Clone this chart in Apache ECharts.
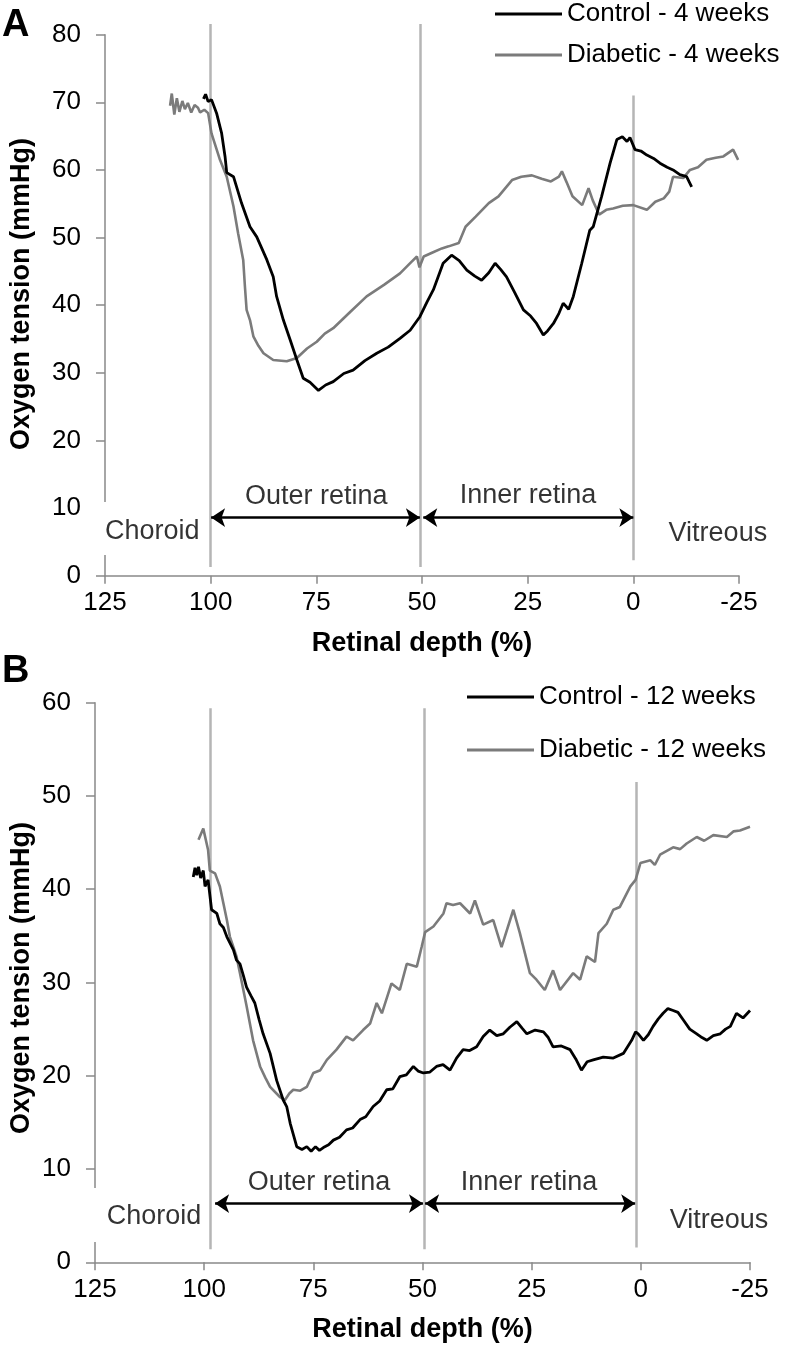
<!DOCTYPE html>
<html>
<head>
<meta charset="utf-8">
<script src="https://cdn.jsdelivr.net/npm/echarts@6/dist/echarts.min.js"></script>
<style>
    html, body { margin: 0; padding: 0; background: #fff; }
    #retina_o2 { width: 789px; height: 1351px; }
</style>
</head>
<body>
<div id="retina_o2"></div>
<script>
'use strict';

/*------------- data: [retinal depth %, O2 mmHg] ------------------------------------*/
var ctrl4 = [
    [101.7, 70.5], [101.2, 71.2], [100.6, 70.1], [99.8, 70.4], [98.6, 68.4], [97.4, 65.4], [96.6, 62],
    [96.2, 59.6], [94.6, 59], [92.7, 55.1], [90.7, 51.6], [89.1, 50.1], [86.7, 46.7], [85.2, 44.2],
    [84.4, 41.3], [82.8, 37.8], [81.2, 34.9], [79.6, 31.9], [78.1, 29.2], [76.5, 28.6], [74.5, 27.4],
    [72.8, 28.2], [71, 28.7], [68.5, 29.9], [66.3, 30.4], [63.5, 31.8], [60.7, 32.9], [58, 33.8],
    [55.2, 35.1], [52.8, 36.3], [50.5, 38.3], [48.8, 40.5], [47.3, 42.3], [45, 46.2], [43, 47.4],
    [41.2, 46.6], [39.4, 45.2], [37.5, 44.3], [35.9, 43.7], [34.2, 44.8], [32.7, 46.2], [31.4, 45.3],
    [30, 44.2], [28, 41.8], [26, 39.3], [24.3, 38.4], [22.9, 37.3], [21.3, 35.6], [20.3, 36.2],
    [18.9, 37.3], [17.6, 38.8], [16.6, 40.3], [15.3, 39.4], [14.2, 41.3], [12.2, 46.2], [10.3, 51.1],
    [9.5, 51.6], [7.5, 56.1], [5.5, 61], [3.9, 64.5], [2.6, 64.9], [1.5, 64.2], [0.8, 64.8],
    [-0.4, 63], [-1.8, 62.8], [-3.2, 62.2], [-4.8, 61.7], [-6.3, 61], [-8, 60.4], [-9.4, 60],
    [-11, 59.3], [-12.6, 59], [-13.8, 57.5]
];
var diab4 = [
    [109.6, 69.5], [109.2, 71.3], [108.6, 68.2], [108, 70.6], [107.4, 68.6], [106.7, 70.2], [106.1, 69],
    [105.4, 69.9], [104.6, 68.5], [103.8, 69.6], [103, 69.2], [102.5, 68.5], [101.5, 68.9], [100.6, 68.4],
    [99.8, 65.4], [97.8, 61.5], [96.2, 59], [94.6, 54.6], [93.5, 50.6], [92.3, 46.7], [91.9, 42.8],
    [91.5, 39.3], [90.7, 37.8], [89.9, 35.4], [88.7, 34], [87.5, 32.9], [85.2, 31.9], [82, 31.7],
    [79.6, 32.2], [77.2, 33.6], [74.9, 34.6], [73, 35.8], [71, 36.6], [67, 39], [63.1, 41.3],
    [59, 43], [55.2, 44.7], [52.5, 46.4], [51.2, 47.2], [50.6, 45.6], [49.6, 47.2], [47.5, 47.8],
    [45.3, 48.4], [43.7, 48.7], [41.3, 49.2], [39.7, 51.6], [37.3, 53.1], [34.2, 55.1], [31.9, 56.1],
    [28.7, 58.5], [26.5, 59], [24, 59.2], [21.7, 58.7], [19.5, 58.3], [17.6, 59], [16.9, 59.8],
    [15.8, 58.2], [14.4, 56.1], [12.1, 54.8], [10.6, 57.3], [9.6, 55.5], [8.1, 53.4], [6.4, 54.1],
    [4.8, 54.3], [2.5, 54.7], [0, 54.8], [-3.2, 54.1], [-5.2, 55.3], [-7.2, 55.8], [-8.5, 56.8],
    [-9.4, 59], [-11.8, 58.8], [-13.4, 60], [-15.3, 60.4], [-17.3, 61.5], [-19.5, 61.8],
    [-21.3, 62], [-23.6, 63], [-24.8, 61.5]
];
var ctrl12 = [
    [102.5, 41.3], [102.1, 42.3], [101.7, 41.5], [101.3, 42.4], [100.8, 41.2], [100.2, 42], [99.8, 40.3],
    [99.1, 41], [98.3, 37.8], [97.1, 37.4], [96.4, 36.3], [95.6, 35.9], [94.8, 34.9], [93.3, 33.5],
    [92.6, 32.4], [91.8, 32], [91, 30.7], [90.3, 29.5], [89.3, 28.6], [88.4, 27.8], [87.4, 26],
    [86.5, 24.5], [84.9, 22.4], [83.4, 19.5], [81.9, 17.4], [81.1, 16.7], [80.3, 14.9], [78.8, 12.4],
    [77.6, 12.1], [76.5, 12.4], [75.5, 11.9], [74.5, 12.4], [73.6, 12], [72.7, 12.3], [71.5, 12.6],
    [70.4, 13.1], [69, 13.4], [67.4, 14.2], [66, 14.4], [64.3, 15.3], [63, 15.6], [61.3, 16.7],
    [59.8, 17.3], [58.2, 18.5], [56.8, 18.6], [55.2, 19.9], [53.7, 20.1], [52.1, 21], [51, 20.5],
    [49.8, 20.3], [48.3, 20.4], [46.8, 21], [45.3, 21.2], [43.7, 20.6], [42.2, 21.9], [40.7, 22.8],
    [39.2, 22.7], [37.6, 23.1], [36.1, 24.2], [34.6, 24.9], [33, 24.3], [31.5, 24.5], [30, 25.2],
    [28.4, 25.8], [27.2, 25.1], [26.1, 24.5], [24.2, 24.9], [22.3, 24.7], [21.2, 24.1], [20.1, 23.1],
    [18.2, 23.2], [16.2, 22.8], [14.9, 21.8], [13.6, 20.6], [12.3, 21.5], [10.9, 21.7], [8.6, 22],
    [6.3, 21.9], [4, 22.4], [2.1, 23.8], [1.2, 24.7], [0.6, 24.5], [-0.6, 23.8], [-1.7, 24.4],
    [-2.8, 25.3], [-4, 26.1], [-5.1, 26.7], [-6.2, 27.2], [-7.4, 27], [-8.5, 26.8], [-9.7, 26],
    [-11.2, 25], [-12.8, 24.5], [-14, 24.1], [-15.1, 23.8], [-16.6, 24.3], [-18.2, 24.5],
    [-19.4, 25], [-20.5, 25.3], [-21.9, 26.7], [-23.4, 26.2], [-25, 27]
];
var diab12 = [
    [101.3, 45.3], [100.2, 46.5], [99.1, 44.2], [98.7, 42], [97.5, 41.7], [96.4, 40.3], [95.6, 38.5],
    [94.8, 36.7], [94.1, 34.9], [93.3, 33.8], [92.6, 32.8], [91.8, 31], [90.3, 27.5], [88.8, 23.8],
    [87.2, 21], [86, 19.8], [84.9, 18.8], [82.6, 17.7], [81.5, 17.4], [80.5, 18.1], [79.6, 18.5],
    [78, 18.4], [76.5, 18.8], [75, 20.3], [73.4, 20.6], [71.9, 21.7], [69.7, 22.8], [67.4, 24.2],
    [65.9, 23.8], [63.6, 24.9], [62, 25.6], [60.5, 27.8], [59.3, 26.7], [57.1, 29.9], [55.2, 29.2],
    [53.6, 32], [51.3, 31.7], [50.2, 33.8], [49.4, 35.4], [47.5, 36], [45.2, 37.4], [44.5, 38.5],
    [43, 38.3], [41.4, 38.5], [39.1, 37.4], [38, 38.8], [36.1, 36.2], [33.8, 36.7], [31.9, 33.8],
    [29.2, 37.8], [27.7, 35.3], [25.4, 31], [23.9, 30.3], [22, 29.2], [20.1, 31.3], [18.5, 29.2],
    [15.5, 31], [13.9, 30.3], [12.4, 32.8], [10.5, 32.2], [9.7, 35.3], [7.8, 36.3], [6.3, 37.8],
    [4.8, 38.1], [2.4, 40.3], [1.2, 41], [0.1, 42.8], [-2.2, 43.1], [-3.2, 42.6], [-4.4, 43.7],
    [-7.4, 44.5], [-9, 44.3], [-10.5, 44.9], [-12.8, 45.6], [-14.5, 45.2], [-16.6, 45.8],
    [-19.7, 45.6], [-21.2, 46.2], [-22.7, 46.3], [-25, 46.7]
];

// region boundaries: [depth, from O2, to O2]
var boundsA = [[100, 1.3, 81.6], [50.4, 1.3, 81.6], [0, 2.3, 71]];
var boundsB = [[98.5, 1.4, 59.4], [49.7, 1.4, 59.4], [1.1, 1.6, 51.5]];
// double arrows: [from depth, to depth, O2]
var arrowsA = [[99.9, 50.5, 8.6], [49.7, 0, 8.6]];
var arrowsB = [[97.5, 49.9, 6.3], [49.4, 1.3, 6.3]];
// region labels: [depth, O2, text]
var labelsA = [[75, 11.7, 'Outer retina'], [24.9, 11.9, 'Inner retina'], [113.8, 6.5, 'Choroid'], [-20, 6.3, 'Vitreous']];
var labelsB = [[73.7, 8.6, 'Outer retina'], [25.6, 8.6, 'Inner retina'], [111.5, 4.9, 'Choroid'], [-17.9, 4.5, 'Vitreous']];

var namesA = ['Control - 4 weeks', 'Diabetic - 4 weeks'];
var namesB = ['Control - 12 weeks', 'Diabetic - 12 weeks'];

var FONT = '"Liberation Sans", Arial, sans-serif';
var AXIS_GREY = '#898989';
var BOUND_GREY = '#b5b5b5';
var DIAB_GREY = '#7b7b7b';

var myChart = echarts.init(document.getElementById('retina_o2'));

function xAxisFor(gridIndex) {
    return {
        gridIndex: gridIndex, type: 'value', min: -25, max: 125, interval: 25, inverse: true,
        axisLine: { show: true, onZero: false, lineStyle: { color: AXIS_GREY, width: 1.5 } },
        axisTick: { show: true, length: 8, lineStyle: { color: AXIS_GREY, width: 1.5 } },
        axisLabel: { margin: 14, fontSize: 26, lineHeight: 27, color: '#000', fontFamily: FONT },
        splitLine: { show: false },
        name: 'Retinal depth (%)', nameLocation: 'middle', nameGap: 54,
        nameTextStyle: { fontSize: 27, fontWeight: 'bold', color: '#000', fontFamily: FONT }
    };
}
function yAxisFor(gridIndex, max) {
    return {
        gridIndex: gridIndex, type: 'value', min: 0, max: max, interval: 10,
        axisLine: { show: true, onZero: false, lineStyle: { color: AXIS_GREY, width: 1.5 } },
        axisTick: { show: true, length: 9, lineStyle: { color: AXIS_GREY, width: 1.5 } },
        axisLabel: { margin: 24, fontSize: 26, color: '#000', fontFamily: FONT },
        splitLine: { show: false }
    };
}
function traceSeries(name, data, idx, color, width) {
    return {
        name: name, type: 'line', xAxisIndex: idx, yAxisIndex: idx, data: data,
        showSymbol: false, symbol: 'none', z: 5, animation: false,
        lineStyle: { color: color, width: width }, itemStyle: { color: color }
    };
}
function boundSeries(bounds, idx) {
    return {
        type: 'lines', coordinateSystem: 'cartesian2d', xAxisIndex: idx, yAxisIndex: idx,
        clip: false, silent: true, z: 2, animation: false,
        lineStyle: { color: BOUND_GREY, width: 2.5, opacity: 1 },
        data: bounds.map(function (b) { return { coords: [[b[0], b[1]], [b[0], b[2]]] }; })
    };
}
function arrowSeries(arrows, idx) {
    return {
        type: 'lines', coordinateSystem: 'cartesian2d', xAxisIndex: idx, yAxisIndex: idx,
        silent: true, z: 4, animation: false, symbol: ['arrow', 'arrow'], symbolSize: 14,
        lineStyle: { color: '#000', width: 2.6, opacity: 1 },
        data: arrows.map(function (a) { return { coords: [[a[0], a[2]], [a[1], a[2]]] }; })
    };
}
function labelSeries(labels, idx) {
    return {
        type: 'scatter', xAxisIndex: idx, yAxisIndex: idx, symbolSize: 0, silent: true, animation: false,
        z: 120,
        label: { show: true, position: 'inside', formatter: '{b}', fontSize: 27, color: '#000',
                 textBorderWidth: 0, fontFamily: FONT },
        data: labels.map(function (l) { return { name: l[2], value: [l[0], l[1]] }; })
    };
}
function legendFor(names, left, top, gap) {
    return {
        data: names, orient: 'vertical', left: left, top: top, padding: 0, itemGap: gap,
        icon: 'rect', itemWidth: 67, itemHeight: 3, selectedMode: false,
        textStyle: { fontSize: 26, lineHeight: 28, color: '#000', fontFamily: FONT }
    };
}

var option = {
    backgroundColor: '#fff',
    animation: false,
    grid: [
        { left: 105, top: 34.7, width: 634, height: 541, outerBoundsMode: 'none' },
        { left: 95, top: 702.7, width: 655, height: 559.6, outerBoundsMode: 'none' }
    ],
    legend: [
        legendFor(namesA, 495, 0, 13),
        legendFor(namesB, 467, 683, 25)
    ],
    xAxis: [xAxisFor(0), xAxisFor(1)],
    yAxis: [yAxisFor(0, 80), yAxisFor(1, 60)],
    graphic: [
        // gap in the y axis behind the "Choroid" text
        { type: 'rect', shape: { x: 93, y: 502, width: 14, height: 53 }, style: { fill: '#fff' }, z: 100 },
        { type: 'rect', shape: { x: 87, y: 1188, width: 12, height: 54 }, style: { fill: '#fff' }, z: 100 },
        { type: 'text', x: 2, y: 7, style: { text: 'A', font: 'bold 38px ' + FONT, fill: '#000' }, z: 100 },
        { type: 'text', x: 2, y: 653, style: { text: 'B', font: 'bold 38px ' + FONT, fill: '#000' }, z: 100 },
        { type: 'text', x: 22, y: 294, rotation: Math.PI / 2,
          style: { text: 'Oxygen tension (mmHg)', font: 'bold 27px ' + FONT, fill: '#000', align: 'center', verticalAlign: 'middle' } },
        { type: 'text', x: 22, y: 978, rotation: Math.PI / 2,
          style: { text: 'Oxygen tension (mmHg)', font: 'bold 27px ' + FONT, fill: '#000', align: 'center', verticalAlign: 'middle' } }
    ],
    series: [
        boundSeries(boundsA, 0),
        arrowSeries(arrowsA, 0),
        labelSeries(labelsA, 0),
        traceSeries(namesA[1], diab4, 0, DIAB_GREY, 2.6),
        traceSeries(namesA[0], ctrl4, 0, '#000', 2.8),
        boundSeries(boundsB, 1),
        arrowSeries(arrowsB, 1),
        labelSeries(labelsB, 1),
        traceSeries(namesB[1], diab12, 1, DIAB_GREY, 2.6),
        traceSeries(namesB[0], ctrl12, 1, '#000', 2.8)
    ]
};

myChart.setOption(option);
</script>
</body>
</html>
